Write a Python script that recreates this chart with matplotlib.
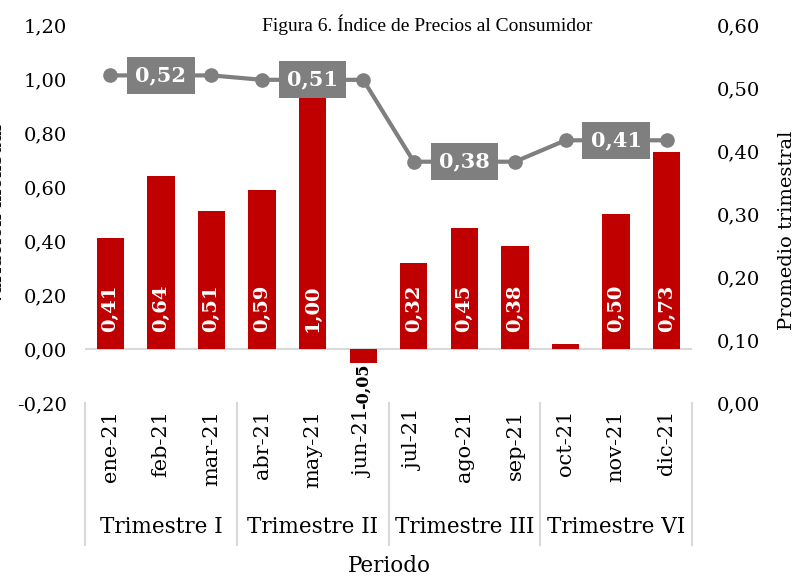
import numpy as np
import matplotlib.pyplot as plt
from matplotlib.lines import Line2D
import matplotlib.transforms as mtransforms

plt.rcParams['font.family'] = ['DejaVu Serif']

meses = ['ene-21', 'feb-21', 'mar-21', 'abr-21', 'may-21', 'jun-21',
         'jul-21', 'ago-21', 'sep-21', 'oct-21', 'nov-21', 'dic-21']
variacion = [0.41, 0.64, 0.51, 0.59, 1.00, -0.05,
             0.32, 0.45, 0.38, 0.02, 0.50, 0.73]
etiquetas_var = ['0,41', '0,64', '0,51', '0,59', '1,00', '-0,05',
                 '0,32', '0,45', '0,38', '', '0,50', '0,73']
promedio = [0.52, 0.52, 0.52, 0.513, 0.513, 0.513,
            0.383, 0.383, 0.383, 0.417, 0.417, 0.417]
trimestres = ['Trimestre I', 'Trimestre II', 'Trimestre III', 'Trimestre VI']
etiquetas_prom = ['0,52', '0,51', '0,38', '0,41']

rojo = '#C00000'
gris = '#7F7F7F'
fs = 14

fig = plt.figure(figsize=(7.99, 5.83), dpi=100)
ax = fig.add_axes([85 / 799, 1 - 403 / 583, (692 - 85) / 799, (403 - 25) / 583])
ax2 = ax.twinx()

x = np.arange(len(meses))
ax.bar(x, variacion, width=0.54, color=rojo, zorder=2)
ax.axhline(0, color='#D9D9D9', lw=1.5, zorder=1)

for xi, v, lab in zip(x, variacion, etiquetas_var):
    if not lab:
        continue
    if v >= 0:
        ax.annotate(lab, (xi, 0), xytext=(0, 12), textcoords='offset points',
                    rotation=90, ha='center', va='bottom', color='white',
                    fontsize=fs, fontweight='bold', zorder=3)
    else:
        ax.annotate(lab, (xi, v), xytext=(0, -1), textcoords='offset points',
                    rotation=90, ha='center', va='top', color='black',
                    fontsize=11.5, fontweight='bold', zorder=3)

ax.set_xlim(-0.5, 11.5)
ax.set_ylim(-0.2, 1.2)
ticks_izq = np.arange(-0.2, 1.21, 0.2)
ax.set_yticks(ticks_izq)
ax.set_yticklabels([f'{t:.2f}'.replace('.', ',') for t in ticks_izq])
ax.set_xticks(x)
ax.set_xticklabels(meses, rotation=90, va='top')
ax.tick_params(axis='y', length=0, labelsize=fs, pad=13)
ax.tick_params(axis='x', length=0, labelsize=15, pad=5)

ax2.plot(x, promedio, color=gris, lw=3, marker='o', markersize=9.5, zorder=4)
for k, lab in enumerate(etiquetas_prom):
    i = 3 * k + 1
    ax2.text(i, promedio[i], lab, ha='center', va='center', color='white',
             fontsize=fs + 1, fontweight='bold', zorder=5,
             bbox=dict(boxstyle='square,pad=0.4', fc=gris, ec='none'))
ax2.set_ylim(0, 0.6)
ticks_der = np.arange(0, 0.61, 0.1)
ax2.set_yticks(ticks_der)
ax2.set_yticklabels([f'{t:.2f}'.replace('.', ',') for t in ticks_der])
ax2.tick_params(axis='y', length=0, labelsize=fs, pad=18)

for a in (ax, ax2):
    for s in a.spines.values():
        s.set_visible(False)

# separadores de trimestres y etiquetas de grupo
trans = mtransforms.blended_transform_factory(ax.transData, fig.transFigure)
for b in [-0.5, 2.5, 5.5, 8.5, 11.5]:
    fig.add_artist(Line2D([b, b], [1 - 403 / 583, 1 - 545 / 583], transform=trans,
                          color='#D9D9D9', lw=1.5))
for k, t in enumerate(trimestres):
    fig.text(3 * k + 1, 1 - 527 / 583, t, transform=trans, ha='center', va='center',
             fontsize=15.5)

fig.text(389 / 799, 1 - 566 / 583, 'Periodo', ha='center', va='center', fontsize=15.5)
fig.text(427 / 799, 1 - 25 / 583, 'Figura 6. Índice de Precios al Consumidor',
         ha='center', va='center', fontsize=14, family='Liberation Serif')
fig.text(787 / 799, 1 - 230 / 583, 'Promedio trimestral', rotation=90, ha='center',
         va='center', fontsize=fs)
fig.text(-0.004, 1 - 215 / 583, 'Variación mensual', rotation=90, ha='center',
         va='center', fontsize=fs)

fig.savefig('out.png', dpi=100)
